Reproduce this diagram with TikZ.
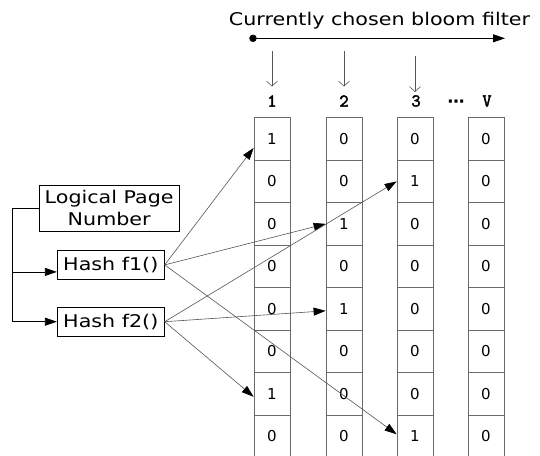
\documentclass[tikz,border=0pt]{standalone}
\usepackage{fontspec}
\usetikzlibrary{arrows.meta}
\newfontfamily\boxfont[FakeStretch=1.18]{DejaVu Sans}
\newfontfamily\cellfont{DejaVu Sans}
\newfontfamily\labfont[FakeBold=2.5]{Latin Modern Mono}
\definecolor{linegrey}{HTML}{555555}
\definecolor{cellgrey}{HTML}{6A6A6A}

\tikzset{
  textbox/.style={draw=black, line width=0.8pt, inner sep=0pt, align=center,
    font=\boxfont\fontsize{17.5}{22}\selectfont},
  cell/.style={draw=cellgrey, line width=0.8pt, minimum width=36pt,
    minimum height=42.47pt, inner sep=0pt, font=\cellfont\fontsize{15}{15}\selectfont},
  collabel/.style={inner sep=0pt, font=\labfont\fontsize{18}{18}\selectfont},
  feed/.style={draw=black, line width=0.7pt, -{Triangle[length=12pt,width=8pt]}},
  bit/.style={draw=linegrey, line width=0.6pt, -{Triangle[length=12pt,width=8pt,color=black]}},
  pick/.style={draw=linegrey, line width=0.6pt, -{Straight Barb[length=5pt,width=11pt]}}
}

\begin{document}
\begin{tikzpicture}[x=1pt,y=-1pt]
\useasboundingbox (0,0) rectangle (540,455);
\clip (0,0) rectangle (540,455);

% selection arrow over the filters
\node[anchor=base, inner sep=0pt, font=\boxfont\fontsize{17.5}{17.5}\selectfont]
  (title) at (379.5,25) {Currently chosen bloom filter};
\coordinate (tstart) at (249.3,38.3);
\coordinate (tend) at (505,38.3);
\draw[line width=0.8pt, {Circle[length=7.4pt]}-{Triangle[length=12pt,width=8pt]}] (tstart) -- (tend);

% filter numbers
\node[collabel] (l1) at (272,101) {1};
\node[collabel] (l2) at (344,101) {2};
\node[collabel] (l3) at (416,101) {3};
\node[inner sep=0pt, font=\cellfont\bfseries\fontsize{17}{17}\selectfont] (ldots) at (456,104) {⋯};
\node[collabel] (lv) at (487,101) {V};

% pointers to the filters
\coordinate (d1s) at (272,51);   \coordinate (d1e) at (272,86.5);
\coordinate (d2s) at (344,51);   \coordinate (d2e) at (344,86.5);
\coordinate (d3s) at (415,56);   \coordinate (d3e) at (415,92);
\draw[pick] (d1s) -- (d1e);
\draw[pick] (d2s) -- (d2e);
\draw[pick] (d3s) -- (d3e);

% bit arrays
\foreach \c/\x/\bits in {1/272/{1,0,0,0,0,0,1,0},2/344/{0,0,1,0,1,0,0,0},
                         3/415/{0,1,0,0,0,0,0,1},v/486/{0,0,0,0,0,0,0,0}}{
  \foreach \b [count=\r] in \bits
    \node[cell] (c\c-\r) at (\x,{117.7+(\r-0.5)*42.47}) {\b};
}

% input and hash functions
\node[textbox, minimum width=139.7pt, minimum height=45.3pt] (lpn) at (109.2,208.3)
  {Logical Page\\Number};
\node[textbox, minimum width=107pt, minimum height=28.3pt] (f1) at (110.8,264.9) {Hash f1()};
\node[textbox, minimum width=107pt, minimum height=28.7pt] (f2) at (110.8,321.7) {Hash f2()};

\coordinate (spine) at (12.7,0);
\coordinate (f1in) at ([yshift=-7pt]f1.west);
\draw[feed] (lpn.west) -- (lpn.west -| spine) |- (f2.west);
\draw[feed] (spine |- f1in) -- (f1in);

% hash outputs
\draw[bit] (f1.east) -- ([yshift=-9pt]c1-1.west);
\draw[bit] (f1.east) -- (c2-3.west);
\draw[bit] (f1.east) -- ([yshift=2pt]c3-8.west);
\draw[bit] (f2.east) -- (c3-2.west);
\draw[bit] (f2.east) -- ([yshift=-2pt]c2-5.west);
\draw[bit] (f2.east) -- ([yshift=-3pt]c1-7.west);
\end{tikzpicture}
\end{document}
